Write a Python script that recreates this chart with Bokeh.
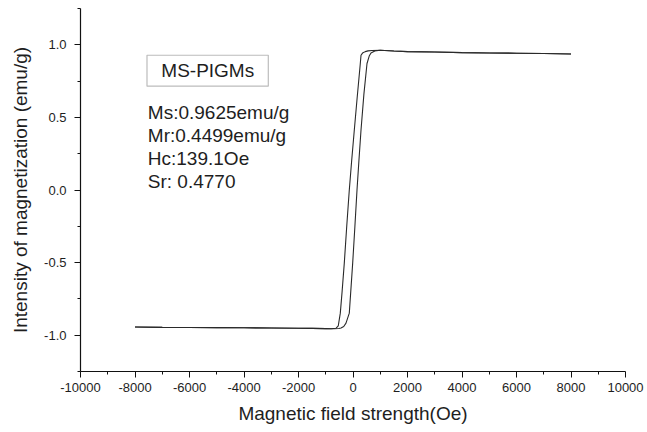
from bokeh.plotting import figure
from bokeh.models import Range1d, FixedTicker, PrintfTickFormatter, BoxAnnotation, Label, ColumnDataSource
from bokeh.core.properties import value
from bokeh.embed import file_html
from bokeh.resources import INLINE

# ---- data ----
# descending branch (from +H saturation to -H saturation)
h_desc = [8000, 7000, 6000, 5000, 4000, 3000, 2000, 1500, 1000, 700, 550, 450, 350, 294, 268,
          150, 48, -50, -136, -230, -319, -400, -466, -540, -620, -800, -1000, -1500,
          -2000, -3000, -4000, -5000, -6000, -7000, -8000]
m_desc = [0.937, 0.940, 0.942, 0.944, 0.946, 0.950, 0.953, 0.957, 0.962, 0.961, 0.958, 0.953, 0.943, 0.928, 0.871,
          0.63, 0.413, 0.20, 0.0, -0.25, -0.502, -0.70, -0.848, -0.935, -0.952, -0.956, -0.955, -0.953,
          -0.952, -0.950, -0.949, -0.948, -0.947, -0.946, -0.944]
# ascending branch (from -H saturation to +H saturation)
h_asc = [-8000, -7000, -6000, -5000, -4000, -3000, -2000, -1500, -1000, -700, -520, -440, -340, -257,
         -136, -11, 70, 147, 220, 294, 400, 514, 600, 660, 800, 1000, 1500, 2000, 3000, 4000,
         5000, 6000, 7000, 8000]
m_asc = [-0.944, -0.946, -0.947, -0.948, -0.949, -0.950, -0.952, -0.953, -0.955, -0.956, -0.954, -0.950, -0.940, -0.917,
         -0.848, -0.502, -0.25, 0.0, 0.21, 0.413, 0.66, 0.871, 0.925, 0.944, 0.958, 0.962, 0.957, 0.953, 0.950, 0.946,
         0.944, 0.942, 0.940, 0.937]

x_ticks = [-10000, -8000, -6000, -4000, -2000, 0, 2000, 4000, 6000, 8000, 10000]
x_minor = [-9000, -7000, -5000, -3000, -1000, 1000, 3000, 5000, 7000, 9000]
y_ticks = [-1.0, -0.5, 0.0, 0.5, 1.0]
y_minor = [-1.25, -0.75, -0.25, 0.25, 0.75, 1.25]

sample_name = "MS-PIGMs"
info_lines = ["Ms:0.9625emu/g", "Mr:0.4499emu/g", "Hc:139.1Oe", "Sr: 0.4770"]

x_label = "Magnetic field strength(Oe)"
y_label = "Intensity of magnetization (emu/g)"

FONT = "Liberation Sans"
INK = "#1e1e1e"

p = figure(width=647, height=432, output_backend="svg", toolbar_location=None,
           x_range=Range1d(-10000, 10000), y_range=Range1d(-1.25, 1.25),
           min_border_left=80, min_border_right=22, min_border_top=8, min_border_bottom=61)
p.outline_line_color = None
p.xgrid.visible = False
p.ygrid.visible = False
p.background_fill_color = "white"
p.border_fill_color = "white"

p.line(h_desc, m_desc, line_color="#2a2a2a", line_width=1.1)
p.line(h_asc, m_asc, line_color="#2a2a2a", line_width=1.1)

for ax in (p.xaxis[0], p.yaxis[0]):
    ax.axis_line_color = "#111111"
    ax.axis_line_width = 1.2
    ax.major_tick_line_color = "#111111"
    ax.minor_tick_line_color = "#111111"
    ax.major_tick_in = 0
    ax.major_tick_out = 6
    ax.minor_tick_in = 0
    ax.minor_tick_out = 3
    ax.major_label_text_font = FONT
    ax.major_label_text_font_size = "13px"
    ax.major_label_text_color = INK
    ax.axis_label_text_font = FONT
    ax.axis_label_text_font_size = "19px"
    ax.axis_label_text_font_style = "normal"
    ax.axis_label_text_color = INK

p.xaxis[0].ticker = FixedTicker(ticks=x_ticks, minor_ticks=x_minor)
p.yaxis[0].ticker = FixedTicker(ticks=y_ticks, minor_ticks=y_minor)
p.xaxis[0].formatter = PrintfTickFormatter(format="%d")
p.yaxis[0].formatter = PrintfTickFormatter(format="%.1f")
p.xaxis[0].axis_label = x_label
p.yaxis[0].axis_label = y_label
p.xaxis[0].major_label_standoff = 5
p.xaxis[0].axis_label_standoff = 8
p.yaxis[0].major_label_standoff = 8
p.yaxis[0].axis_label_standoff = 10

# legend-like box with sample name
box = BoxAnnotation(left=-7560, right=-3108, bottom=0.715, top=0.928,
                    fill_alpha=0, line_color="#222222", line_width=1.2)
p.add_layout(box)
p.add_layout(Label(x=-5330, y=0.8215, text=sample_name, text_font=FONT, text_font_size="19px",
                   text_color=INK, text_align="center", text_baseline="middle"))

info_y = [0.532, 0.374, 0.218, 0.057]
src = ColumnDataSource(dict(x=[-7530] * len(info_lines), y=info_y, t=info_lines))
p.text(x="x", y="y", text="t", source=src, text_font=value(FONT), text_font_size="19px",
       text_color=INK, text_align="left", text_baseline="middle")

open("out.html", "w").write(file_html(p, INLINE))
